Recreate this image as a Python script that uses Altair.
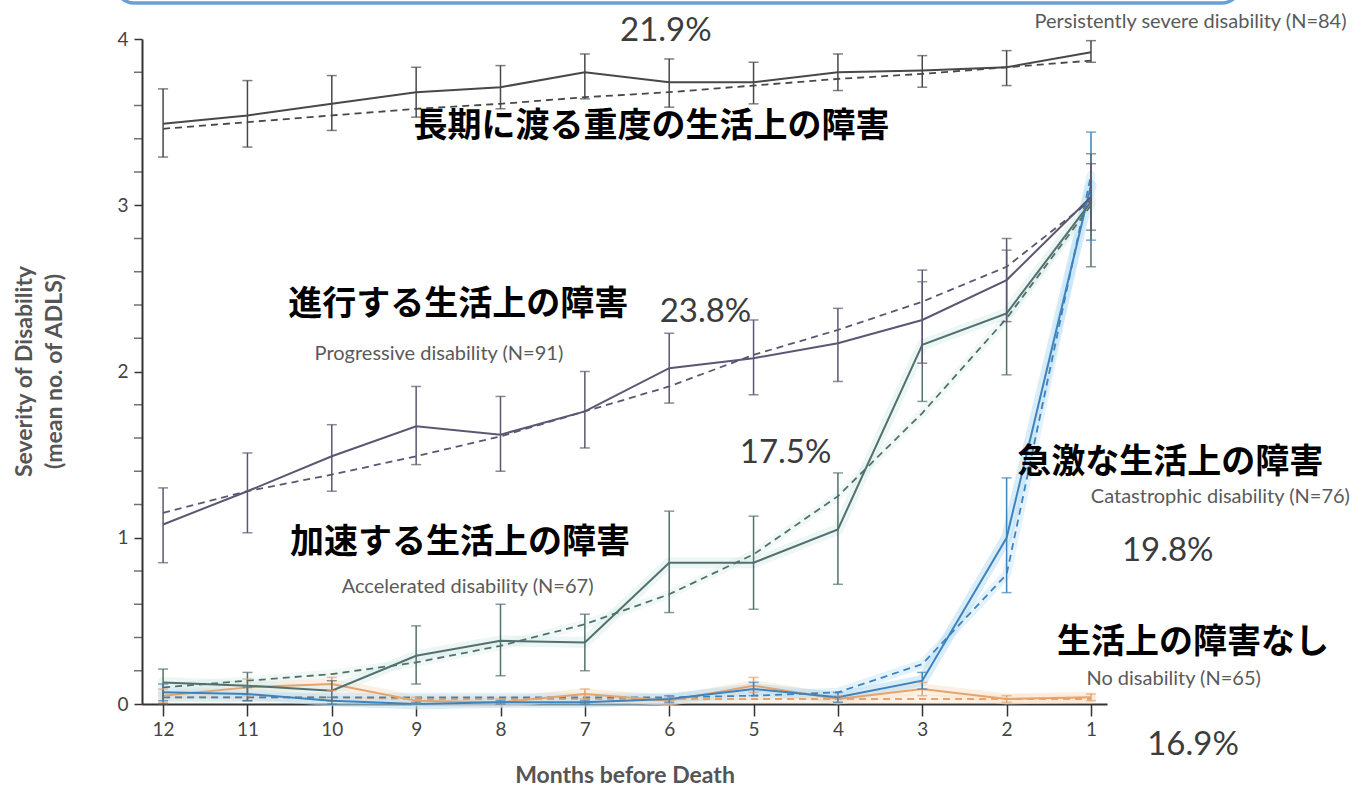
import altair as alt
import pandas as pd

# Months before death, plotted right-to-left (12 ... 1)
months = [12, 11, 10, 9, 8, 7, 6, 5, 4, 3, 2, 1]

# Persistently severe disability
severe_mean = [3.49, 3.54, 3.61, 3.68, 3.71, 3.80, 3.74, 3.74, 3.80, 3.81, 3.83, 3.92]
severe_lo = [3.29, 3.35, 3.45, 3.53, 3.58, 3.64, 3.59, 3.61, 3.69, 3.71, 3.72, 3.86]
severe_hi = [3.70, 3.75, 3.78, 3.83, 3.84, 3.91, 3.88, 3.86, 3.91, 3.90, 3.93, 3.99]
severe_fit = [3.46, 3.50, 3.54, 3.58, 3.61, 3.65, 3.68, 3.72, 3.76, 3.79, 3.83, 3.87]

# Progressive disability
prog_mean = [1.08, 1.28, 1.49, 1.67, 1.62, 1.76, 2.02, 2.08, 2.17, 2.31, 2.55, 3.05]
prog_lo = [0.85, 1.03, 1.28, 1.44, 1.40, 1.54, 1.81, 1.86, 1.94, 2.05, 2.30, 2.85]
prog_hi = [1.30, 1.51, 1.68, 1.91, 1.85, 2.00, 2.23, 2.31, 2.38, 2.61, 2.80, 3.25]
prog_fit = [1.15, 1.28, 1.38, 1.49, 1.61, 1.76, 1.91, 2.10, 2.25, 2.42, 2.63, 3.03]

# Accelerated disability
acc_mean = [0.13, 0.11, 0.08, 0.29, 0.38, 0.37, 0.85, 0.85, 1.05, 2.16, 2.35, 3.02]
acc_lo = [0.00, 0.02, 0.02, 0.12, 0.17, 0.20, 0.55, 0.57, 0.72, 1.82, 1.98, 2.63]
acc_hi = [0.21, 0.19, 0.14, 0.47, 0.60, 0.54, 1.16, 1.13, 1.39, 2.54, 2.73, 3.31]
acc_fit = [0.10, 0.14, 0.18, 0.25, 0.35, 0.48, 0.66, 0.90, 1.25, 1.75, 2.32, 3.00]

# Catastrophic disability
cat_mean = [0.07, 0.06, 0.02, 0.00, 0.01, 0.01, 0.03, 0.09, 0.04, 0.14, 1.00, 3.12]
cat_lo = [0.02, 0.02, 0.00, 0.00, 0.00, 0.00, 0.01, 0.05, 0.01, 0.09, 0.67, 2.79]
cat_hi = [0.12, 0.10, 0.04, 0.01, 0.02, 0.02, 0.05, 0.13, 0.07, 0.19, 1.36, 3.44]
cat_fit = [0.04, 0.04, 0.04, 0.04, 0.04, 0.04, 0.04, 0.05, 0.07, 0.24, 0.78, 3.18]

# No disability
none_mean = [0.05, 0.10, 0.12, 0.02, 0.01, 0.06, 0.02, 0.11, 0.03, 0.09, 0.03, 0.04]
none_lo = [0.01, 0.05, 0.08, 0.00, 0.00, 0.03, 0.00, 0.07, 0.01, 0.05, 0.01, 0.02]
none_hi = [0.09, 0.15, 0.16, 0.04, 0.03, 0.09, 0.04, 0.16, 0.05, 0.13, 0.05, 0.06]
none_fit = [0.04, 0.04, 0.04, 0.03, 0.03, 0.03, 0.03, 0.03, 0.03, 0.03, 0.03, 0.03]

series_keys = ["none", "catastrophic", "accelerated", "progressive", "severe"]
series_ink = ["#e3a46f", "#3f83bd", "#53706e", "#5d5672", "#484848"]
series_halo = ["#fbe2c8", "#b9def4", "#dcefeb", "none", "none"]
series_values = [
    (none_mean, none_lo, none_hi, none_fit),
    (cat_mean, cat_lo, cat_hi, cat_fit),
    (acc_mean, acc_lo, acc_hi, acc_fit),
    (prog_mean, prog_lo, prog_hi, prog_fit),
    (severe_mean, severe_lo, severe_hi, severe_fit),
]

rows = []
for key, ink, halo, (mean, lo, hi, fit) in zip(series_keys, series_ink, series_halo, series_values):
    for m, a, l, h, f in zip(months, mean, lo, hi, fit):
        rows.append({"series": key, "ink": ink, "halo": halo, "month": m,
                     "mean": a, "lo": l, "hi": h, "fit": f})
df = pd.DataFrame(rows)

# Annotation texts (positions in data units: month, severity)
cjk_texts = ["長期に渡る重度の生活上の障害", "進行する生活上の障害", "加速する生活上の障害",
             "急激な生活上の障害", "生活上の障害なし"]
cjk_x = [6.21, 8.50, 8.48, 0.06, -0.21]
cjk_y = [3.47, 2.40, 0.97, 1.45, 0.365]

name_texts = ["Persistently severe disability (N=84)", "Progressive disability (N=91)",
              "Accelerated disability (N=67)", "Catastrophic disability (N=76)",
              "No disability (N=65)"]
name_x = [-2.03, 8.73, 8.39, -2.07, 0.02]
name_y = [4.10, 2.105, 0.704, 1.245, 0.15]
name_align = ["right", "center", "center", "right", "center"]

pct_texts = ["21.9%", "23.8%", "17.5%", "19.8%", "16.9%"]
pct_x = [6.04, 5.57, 4.62, 0.09, -0.21]
pct_y = [4.05, 2.36, 1.51, 0.92, -0.247]

# Major (labelled) and minor y ticks
y_major = [0, 1, 2, 3, 4]
y_minor = [0.2, 0.4, 0.6, 0.8, 1.2, 1.4, 1.6, 1.8, 2.2, 2.4, 2.6, 2.8,
           3.2, 3.4, 3.6, 3.8]

FONT = "Lato"

x_domain = [12.25, 0.81]
x_scale = alt.Scale(domain=x_domain, nice=False, zero=False)
y_scale = alt.Scale(domain=[0, 4], nice=False, zero=False)

x_axis = alt.Axis(
    values=months, format="d", title="Months before Death",
    labelFont=FONT, labelFontSize=19, labelColor="#444444", labelPadding=4,
    tickSize=12, tickColor="#333333", tickWidth=1.5,
    domainColor="#333333", domainWidth=2, grid=False,
    titleFont=FONT, titleFontSize=23, titleFontWeight="bold", titleColor="#555555",
    titleY=71, titleBaseline="middle", labelFlush=False, labelOverlap=False,
)
y_axis = alt.Axis(
    values=y_major, format="d", orient="left",
    title=["Severity of Disability", "(mean no. of ADLS)"],
    labelFont=FONT, labelFontSize=19, labelColor="#444444", labelPadding=6,
    tickSize=8, tickColor="#333333", tickWidth=1.5,
    domainColor="#333333", domainWidth=2, grid=False,
    titleFont=FONT, titleFontSize=23, titleFontWeight="bold", titleColor="#555555",
    titleAngle=270, titleX=-118, titleY=332, titleAlign="center", titleBaseline="middle",
    titleLineHeight=30, labelFlush=False, labelOverlap=False,
)

X = alt.X("month:Q", scale=x_scale, axis=x_axis)
ink = alt.Color("ink:N", scale=None)
halo = alt.Color("halo:N", scale=None)

base = alt.Chart(df)
glowing = base.transform_filter("datum.halo != 'none'")

glow_mean = glowing.mark_line(strokeWidth=11, opacity=0.55, strokeCap="round", strokeJoin="round").encode(
    x=X, y=alt.Y("mean:Q", scale=y_scale, axis=y_axis), color=halo, detail="series:N")
glow_fit = glowing.mark_line(strokeWidth=9, opacity=0.4, strokeCap="round", strokeJoin="round").encode(
    x=X, y=alt.Y("fit:Q", scale=y_scale, axis=None), color=halo, detail="series:N")

fit_lines = base.mark_line(strokeDash=[7, 5], strokeWidth=1.8).encode(
    x=X, y=alt.Y("fit:Q", scale=y_scale, axis=None), color=ink, detail="series:N")
mean_lines = base.mark_line(strokeWidth=2).encode(
    x=X, y=alt.Y("mean:Q", scale=y_scale, axis=None), color=ink, detail="series:N")

bar_rules = base.mark_rule(strokeWidth=1.5).encode(
    x=X, y=alt.Y("lo:Q", scale=y_scale, axis=None), y2="hi:Q", color=ink)
cap_lo = base.mark_tick(orient="horizontal", size=10, thickness=1.5).encode(
    x=X, y=alt.Y("lo:Q", scale=y_scale, axis=None), color=ink)
cap_hi = base.mark_tick(orient="horizontal", size=10, thickness=1.5).encode(
    x=X, y=alt.Y("hi:Q", scale=y_scale, axis=None), color=ink)

# Minor tick marks on the left edge of the y axis (placed at the x-domain edge)
minor_df = pd.DataFrame({"v": y_minor, "edge": [x_domain[0]] * len(y_minor)})
minor_ticks = alt.Chart(minor_df).mark_tick(
    orient="horizontal", size=8, thickness=1.5, color="#333333", xOffset=-4
).encode(x=alt.X("edge:Q", scale=x_scale), y=alt.Y("v:Q", scale=y_scale, axis=None))

main = alt.layer(glow_mean, glow_fit).resolve_axis(y="independent")
layers = [main, fit_lines, mean_lines, bar_rules, cap_lo, cap_hi, minor_ticks]

# Rounded blue frame edge along the top of the figure
frame = alt.Chart(pd.DataFrame({"k": [0]})).mark_rect(
    cornerRadius=18, fill="#ffffff", fillOpacity=0, stroke="#6a9fd6", strokeWidth=3.5
).encode(x=alt.value(-26), x2=alt.value(1098), y=alt.value(-90), y2=alt.value(-36))
layers.append(frame)

for t, xv, yv in zip(pct_texts, pct_x, pct_y):
    layers.append(
        alt.Chart(pd.DataFrame({"t": [t], "x": [xv], "y": [yv]}))
        .mark_text(font=FONT, fontSize=33, color="#3c3c3c", align="center", baseline="middle")
        .encode(x=alt.X("x:Q", scale=x_scale), y=alt.Y("y:Q", scale=y_scale, axis=None), text="t:N")
    )

for t, xv, yv, al in zip(name_texts, name_x, name_y, name_align):
    layers.append(
        alt.Chart(pd.DataFrame({"t": [t], "x": [xv], "y": [yv]}))
        .mark_text(font=FONT, fontSize=20, color="#5a5a5a", align=al, baseline="middle")
        .encode(x=alt.X("x:Q", scale=x_scale), y=alt.Y("y:Q", scale=y_scale, axis=None), text="t:N")
    )

for t, xv, yv in zip(cjk_texts, cjk_x, cjk_y):
    layers.append(
        alt.Chart(pd.DataFrame({"t": [t], "x": [xv], "y": [yv]}))
        .mark_text(font="Noto Sans CJK JP", fontSize=34, fontWeight="bold", color="#000000",
                   align="center", baseline="middle")
        .encode(x=alt.X("x:Q", scale=x_scale), y=alt.Y("y:Q", scale=y_scale, axis=None), text="t:N")
    )

chart = (
    alt.layer(*layers)
    .properties(
        width=965, height=665,
        autosize=alt.AutoSizeParams(type="none"),
        padding={"left": 142, "top": 39, "right": 259, "bottom": 83},
        background="#ffffff",
    )
    .configure_view(stroke=None)
)

chart.save("out.html", embed_options={"renderer": "svg", "actions": False})
